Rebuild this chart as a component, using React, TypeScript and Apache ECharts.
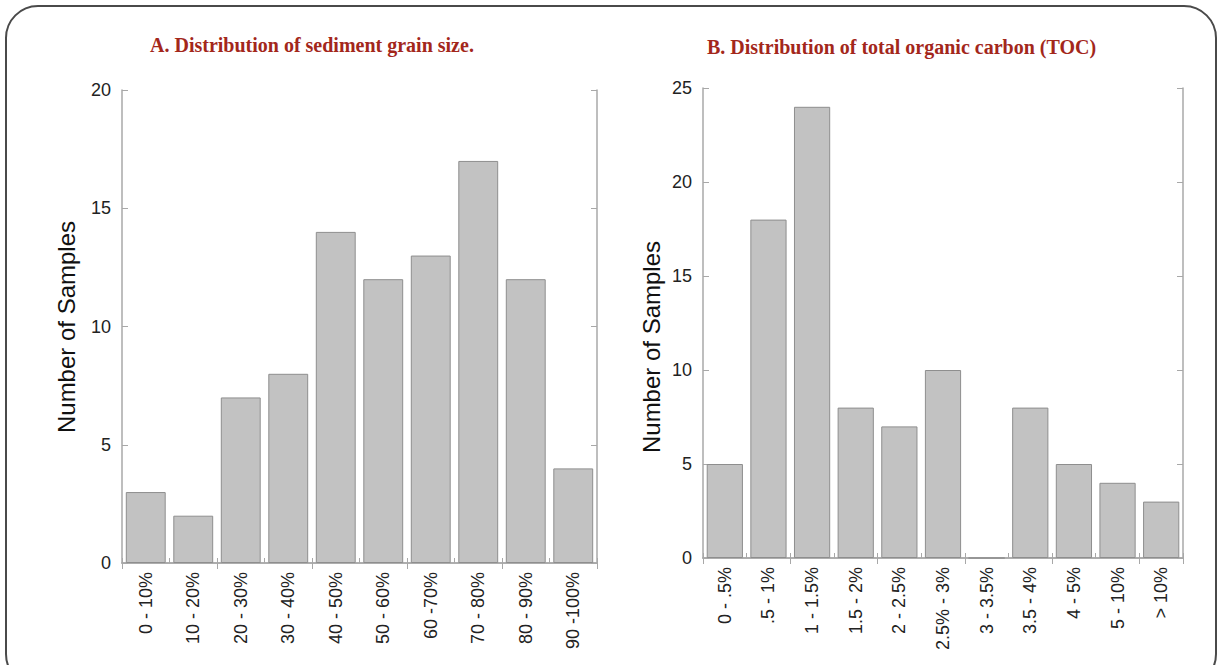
import React, { useEffect, useRef } from "react";
import * as echarts from "echarts";

const grainCategories = ["0 - 10%", "10 - 20%", "20 - 30%", "30 - 40%", "40 - 50%", "50 - 60%", "60 -70%", "70 - 80%", "80 - 90%", "90 -100%"];
const grainCounts = [3, 2, 7, 8, 14, 12, 13, 17, 12, 4];
const tocCategories = ["0 - .5%", ".5 - 1%", "1 - 1.5%", "1.5 - 2%", "2 - 2.5%", "2.5% - 3%", "3 - 3.5%", "3.5 - 4%", "4 - 5%", "5 - 10%", "> 10%"];
const tocCounts = [5, 18, 24, 8, 7, 10, 0, 8, 5, 4, 3];
const titleA = "A. Distribution of sediment grain size.";
const titleB = "B. Distribution of total organic carbon (TOC)";
const yName = "Number of Samples";

export default function App() {
  const ref = useRef<HTMLDivElement>(null);
  useEffect(() => {
    if (!ref.current) return;
    const chart = echarts.init(ref.current, null, { renderer: "svg" });
    const lineCol = "#a8a8a8";
    const font = "Liberation Sans, Arial, sans-serif";
    const xAx = (gi: number, cats: string[]) => [
      {
        type: "category", gridIndex: gi, data: cats, position: "bottom",
        axisLine: { show: true, lineStyle: { color: lineCol, width: 1.5 } },
        axisTick: { show: true, inside: true, length: 5, alignWithLabel: false, lineStyle: { color: lineCol } },
        axisLabel: { rotate: 90, fontSize: 18, color: "#222", fontFamily: font, margin: 9, interval: 0 },
      },
      {
        type: "category", gridIndex: gi, data: cats, position: "top",
        axisLine: { show: true, lineStyle: { color: lineCol, width: 1.5 } },
        axisTick: { show: true, inside: true, length: 6, alignWithLabel: false, lineStyle: { color: lineCol } },
        axisLabel: { show: false },
      },
    ];
    const yAx = (gi: number, max: number) => [
      {
        type: "value", gridIndex: gi, min: 0, max, interval: 5, position: "left",
        axisLine: { show: true, lineStyle: { color: lineCol, width: 1.5 } },
        axisTick: { show: true, inside: true, length: 6, lineStyle: { color: lineCol } },
        axisLabel: { fontSize: 18, color: "#222", fontFamily: font, margin: 11 },
        splitLine: { show: false },
      },
      {
        type: "value", gridIndex: gi, min: 0, max, interval: 5, position: "right",
        axisLine: { show: true, lineStyle: { color: lineCol, width: 1.5 } },
        axisTick: { show: true, inside: true, length: 6, lineStyle: { color: lineCol } },
        axisLabel: { show: false },
        splitLine: { show: false },
      },
    ];
    const barStyle = { color: "#c2c2c2", borderColor: "#8e8e8e", borderWidth: 1 };
    chart.setOption({
      animation: false,
      backgroundColor: "#ffffff",
      grid: [
        { left: 122, top: 90, width: 475, height: 473 },
        { left: 703, top: 88, width: 480, height: 470 },
      ],
      xAxis: [...xAx(0, grainCategories), ...xAx(1, tocCategories)],
      yAxis: [...yAx(0, 20), ...yAx(1, 25)],
      series: [
        { type: "bar", xAxisIndex: 0, yAxisIndex: 0, data: grainCounts, barCategoryGap: "16%", itemStyle: barStyle },
        { type: "bar", xAxisIndex: 2, yAxisIndex: 2, data: tocCounts, barCategoryGap: "17%", itemStyle: barStyle },
      ],
      graphic: [
        { type: "rect", shape: { x: 6, y: 6, width: 1210, height: 680, r: 32 }, style: { fill: "none", stroke: "#4a4a4a", lineWidth: 2 }, silent: true },
        { type: "text", x: 150, y: 45, style: { text: titleA, font: "bold 20px 'Liberation Serif', serif", fill: "#a3271b", textVerticalAlign: "middle" } },
        { type: "text", x: 707, y: 47, style: { text: titleB, font: "bold 20px 'Liberation Serif', serif", fill: "#a3271b", textVerticalAlign: "middle" } },
        { type: "text", x: 66, y: 327, rotation: Math.PI / 2, style: { text: yName, font: "24px 'Liberation Sans', Arial, sans-serif", fill: "#111", textAlign: "center", textVerticalAlign: "middle" } },
        { type: "text", x: 651, y: 347, rotation: Math.PI / 2, style: { text: yName, font: "24px 'Liberation Sans', Arial, sans-serif", fill: "#111", textAlign: "center", textVerticalAlign: "middle" } },
      ],
    });
    return () => chart.dispose();
  }, []);
  return <div ref={ref} style={{ position: "fixed", left: 0, top: 0, width: 1222, height: 665 }} />;
}
